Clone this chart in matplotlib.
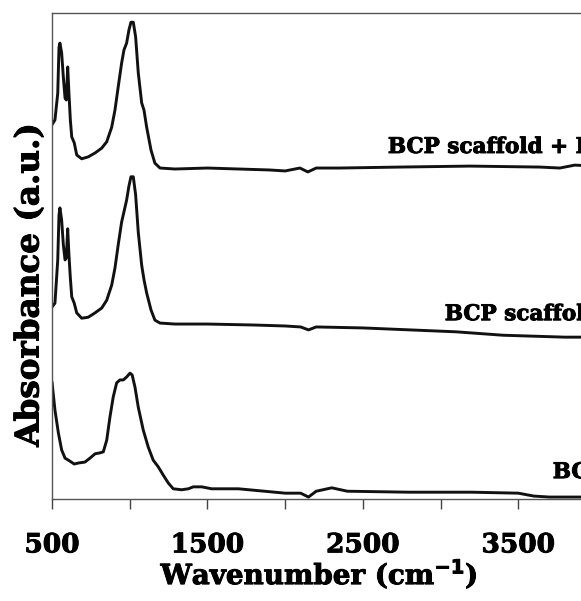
import matplotlib
matplotlib.use("Agg")
import matplotlib.pyplot as plt
import matplotlib.patheffects as pe

# ---- data (wavenumber in cm-1, absorbance in arbitrary stacked units) ----
wn_top = [500, 519, 537, 545, 551, 562, 573, 584, 592, 601, 609, 618, 627, 643, 659, 691,
          733, 777, 820, 852, 884, 905, 926, 948, 963, 980, 995, 1008, 1023, 1038, 1055,
          1077, 1092, 1109, 1137, 1162, 1195, 1291, 1500, 1700, 1900, 2000, 2095, 2146,
          2200, 2352, 2738, 3188, 3638, 3767, 3863, 4000]
abs_top = [77.0, 78.0, 83.5, 92.9, 93.8, 91.8, 86.8, 82.5, 82.1, 88.9, 83.5, 78.0, 74.5,
           73.3, 70.8, 70.0, 70.4, 71.2, 72.2, 73.5, 76.5, 80.0, 84.8, 89.7, 92.4, 93.8,
           96.5, 98.1, 98.1, 95.1, 87.7, 81.5, 80.0, 76.5, 71.8, 69.1, 68.1, 67.9, 68.1,
           67.9, 67.7, 67.5, 68.1, 67.3, 68.1, 68.1, 68.3, 68.5, 68.3, 68.1, 68.7, 68.5]

wn_mid = [500, 519, 537, 545, 551, 562, 573, 584, 592, 601, 609, 618, 627, 643, 659, 691,
          733, 777, 820, 852, 884, 905, 926, 948, 963, 980, 995, 1008, 1023, 1038, 1055,
          1077, 1092, 1109, 1137, 1162, 1195, 1291, 1500, 1800, 2000, 2100, 2150, 2200,
          2500, 2800, 3100, 3400, 3600, 3800, 4000]
abs_mid = [39.5, 40.3, 49.2, 58.4, 59.9, 57.4, 52.3, 49.2, 49.6, 55.6, 50.2, 45.5, 41.6,
           40.3, 38.3, 37.2, 37.4, 38.3, 39.3, 40.9, 44.0, 47.5, 52.3, 57.0, 59.1, 61.5,
           64.4, 66.3, 66.3, 62.6, 54.9, 48.1, 45.1, 42.4, 38.9, 36.8, 36.2, 36.0, 36.0,
           35.8, 35.6, 35.4, 34.8, 35.4, 35.2, 34.8, 34.4, 33.7, 33.5, 33.3, 33.3]

wn_bg = [500, 519, 541, 562, 584, 605, 643, 669, 712, 744, 777, 809, 830, 852, 873, 894,
         916, 937, 959, 980, 1002, 1016, 1034, 1055, 1087, 1119, 1151, 1184, 1216, 1248,
         1280, 1334, 1377, 1409, 1463, 1527, 1700, 2000, 2100, 2150, 2200, 2300, 2400,
         2800, 3200, 3500, 3600, 3700, 4000]
abs_bg = [24.1, 18.3, 13.6, 10.1, 8.4, 8.0, 7.2, 7.4, 7.6, 8.4, 9.3, 9.5, 9.7, 12.1, 16.9,
          21.0, 23.9, 24.5, 24.5, 25.1, 25.9, 25.5, 23.0, 18.9, 14.2, 10.7, 8.0, 6.6, 4.9,
          3.3, 2.1, 1.9, 2.1, 2.5, 2.5, 2.1, 2.1, 1.2, 1.2, 0.4, 1.6, 2.3, 1.6, 1.4, 1.4,
          1.2, 0.6, 0.4, 0.4]

labels = ["BCP scaffold + BG", "BCP scaffold", "BG"]
label_x = [2661, 3027, 3722]
label_y = [71.2, 36.8, 4.3]

xticks = [500, 1000, 1500, 2000, 2500, 3000, 3500, 4000]
xticklabels = ["500", "", "1500", "", "2500", "", "3500", ""]

# ---- figure ----
W, H = 581, 601
fig = plt.figure(figsize=(W / 100, H / 100), dpi=100)
ax = fig.add_axes([52 / W, (H - 499) / H, 544 / W, 486 / H])

font = dict(family="DejaVu Serif", weight="bold")
heavy = [pe.withStroke(linewidth=0.7, foreground="black")]
lc = "#111111"
for x, y in [(wn_top, abs_top), (wn_mid, abs_mid), (wn_bg, abs_bg)]:
    ax.plot(x, y, color=lc, lw=2.1, solid_joinstyle="round", solid_capstyle="round")

for t, x, y in zip(labels, label_x, label_y):
    ax.text(x, y, t, ha="left", va="baseline", fontsize=15.5, color="black",
            path_effects=heavy, **font)

ax.set_xlim(500, 4000)
ax.set_ylim(0, 100)
ax.set_xticks(xticks)
ax.set_xticklabels(xticklabels, fontsize=19, **font)
for lab in ax.get_xticklabels():
    lab.set_path_effects(heavy)
ax.set_yticks([])
ax.tick_params(axis="x", direction="out", length=7, width=1.0, color="#444444", pad=17)

for s in ax.spines.values():
    s.set_color("#555555")
    s.set_linewidth(1.0)

ax.set_xlabel("Wavenumber (cm$^{\\mathbf{-1}}$)", fontsize=20, path_effects=heavy, **font)
ax.xaxis.set_label_coords((319 - 52) / 544, (499 - 557) / 486)
ax.xaxis.label.set_va("top")
ax.set_ylabel("Absorbance (a.u.)", fontsize=23.5, path_effects=heavy, **font)
ax.yaxis.set_label_coords(-0.012, (499 - 285) / 486)

fig.savefig("out.png", dpi=100)
